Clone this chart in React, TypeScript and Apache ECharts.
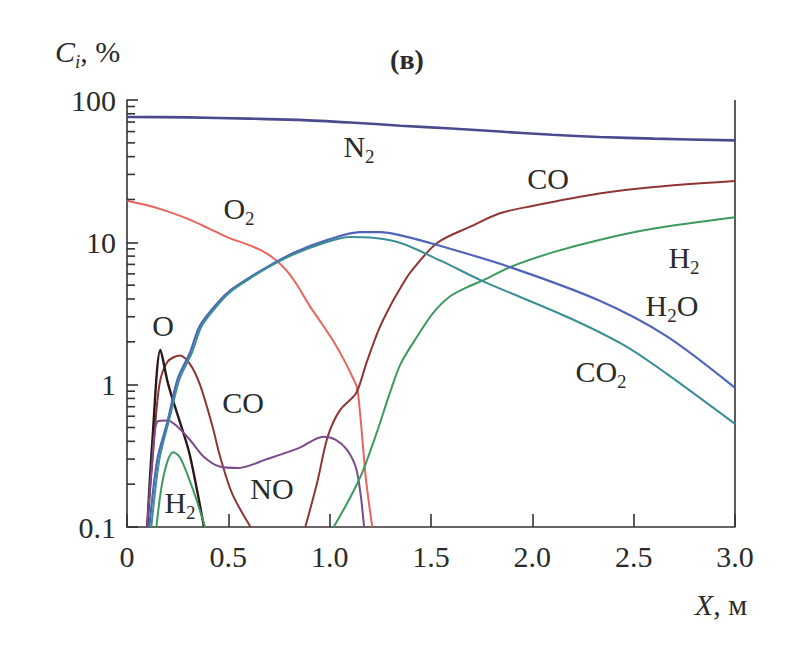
import React, { useEffect, useRef } from "react";
import * as echarts from "echarts";

const FONT = "'Liberation Serif', 'Times New Roman', serif";
const TXT = "#2b2b2b";
const AX = "#333333";

// x tick labels
const X_TICKS = [0, 0.5, 1.0, 1.5, 2.0, 2.5, 3.0];
// minor log ticks on the concentration axis
const Y_MINOR = [0.2, 0.3, 0.4, 0.5, 0.6, 0.7, 0.8, 0.9, 2, 3, 4, 5, 6, 7, 8, 9, 20, 30, 40, 50, 60, 70, 80, 90];
// right frame line of the plot
const RIGHT_FRAME = [[3, 0.1], [3, 100]];

// series: [X (m), C (%)]
const N2 = [[0, 76], [0.3, 75.5], [0.6, 74], [0.85, 72.5], [1.1, 69.5], [1.35, 66], [1.6, 63], [1.84, 60], [2.1, 57], [2.33, 55], [2.6, 53.5], [3.0, 52]];
const O2 = [[0, 19.6], [0.1, 18.2], [0.2, 16.5], [0.3, 14.6], [0.4, 12.6], [0.5, 10.8], [0.6, 9.6], [0.66, 8.8], [0.72, 7.8], [0.78, 6.5], [0.84, 5.0], [0.9, 3.6], [0.96, 2.7], [1.02, 2.0], [1.07, 1.5], [1.11, 1.15], [1.135, 0.95], [1.15, 0.63], [1.165, 0.36], [1.18, 0.21], [1.21, 0.1]];
const CO_MAIN = [[0.88, 0.1], [0.94, 0.21], [0.99, 0.43], [1.05, 0.66], [1.13, 0.87], [1.18, 1.4], [1.24, 2.4], [1.3, 3.6], [1.35, 4.8], [1.4, 6.2], [1.53, 9.9], [1.7, 13], [1.84, 16], [2.0, 18], [2.33, 22], [2.6, 24.5], [3.0, 27]];
const CO_LEFT = [[0.1, 0.1], [0.13, 0.35], [0.16, 1.0], [0.2, 1.45], [0.26, 1.6], [0.31, 1.4], [0.36, 1.0], [0.42, 0.52], [0.46, 0.31], [0.52, 0.17], [0.61, 0.1]];
const O_ATOM = [[0.1, 0.1], [0.125, 0.4], [0.165, 1.75], [0.2, 1.05], [0.23, 0.75], [0.27, 0.5], [0.31, 0.32], [0.38, 0.1]];
const NO = [[0.1, 0.1], [0.125, 0.3], [0.15, 0.55], [0.2, 0.56], [0.24, 0.52], [0.31, 0.41], [0.38, 0.31], [0.46, 0.265], [0.55, 0.26], [0.69, 0.3], [0.85, 0.36], [0.97, 0.43], [1.03, 0.41], [1.085, 0.35], [1.13, 0.26], [1.155, 0.16], [1.17, 0.1]];
const H2_LEFT = [[0.145, 0.1], [0.17, 0.19], [0.2, 0.29], [0.228, 0.335], [0.26, 0.31], [0.3, 0.23], [0.34, 0.16], [0.385, 0.1]];
const H2_RIGHT = [[1.02, 0.1], [1.1, 0.16], [1.16, 0.24], [1.23, 0.45], [1.3, 0.9], [1.35, 1.4], [1.43, 2.16], [1.51, 3.18], [1.59, 4.13], [1.68, 4.85], [1.76, 5.43], [1.89, 6.7], [2.1, 8.5], [2.33, 10.4], [2.6, 12.5], [3.0, 15]];
const H2O = [[0.11, 0.1], [0.15, 0.3], [0.2, 0.55], [0.25, 1.1], [0.31, 1.67], [0.36, 2.6], [0.45, 3.8], [0.51, 4.6], [0.6, 5.6], [0.69, 6.7], [0.82, 8.4], [0.99, 10.4], [1.15, 11.8], [1.25, 11.8], [1.35, 11.2], [1.54, 9.5], [1.89, 6.7], [2.33, 3.9], [2.66, 2.2], [3.0, 0.95]];
const CO2 = [[0.12, 0.1], [0.16, 0.3], [0.21, 0.58], [0.26, 1.1], [0.32, 1.67], [0.37, 2.6], [0.46, 3.8], [0.52, 4.6], [0.6, 5.5], [0.69, 6.6], [0.82, 8.2], [0.99, 10.1], [1.1, 10.9], [1.2, 10.8], [1.35, 9.9], [1.55, 7.4], [1.76, 5.3], [2.17, 3.0], [2.45, 1.9], [2.66, 1.2], [3.0, 0.53]];

const SERIES = [
  { name: "N2", data: N2, color: "#4b4a8f", width: 2.6 },
  { name: "O2", data: O2, color: "#e8645c", width: 2 },
  { name: "CO", data: CO_MAIN, color: "#8f3535", width: 2 },
  { name: "CO-left", data: CO_LEFT, color: "#8f3535", width: 2 },
  { name: "O", data: O_ATOM, color: "#2a1818", width: 2.4 },
  { name: "NO", data: NO, color: "#7b4a8c", width: 2 },
  { name: "H2-left", data: H2_LEFT, color: "#3d9a5f", width: 2 },
  { name: "H2", data: H2_RIGHT, color: "#3d9a5f", width: 2 },
  { name: "H2O", data: H2O, color: "#4f63b8", width: 2.2 },
  { name: "CO2", data: CO2, color: "#3a8f95", width: 2 },
];

const rich = {
  m: { fontSize: 30, fontFamily: FONT, fill: TXT, lineHeight: 40, verticalAlign: "middle" },
  s: { fontSize: 19, fontFamily: FONT, fill: TXT, lineHeight: 40, verticalAlign: "bottom" },
  i: { fontSize: 30, fontFamily: FONT, fill: TXT, lineHeight: 40, fontStyle: "italic", verticalAlign: "middle" },
  is: { fontSize: 19, fontFamily: FONT, fill: TXT, lineHeight: 40, fontStyle: "italic", verticalAlign: "bottom" },
  b: { fontSize: 28, fontFamily: FONT, fill: TXT, lineHeight: 40, fontWeight: "bold", verticalAlign: "middle" },
};

function label(x: number, y: number, text: string, align = "center") {
  return {
    type: "text",
    x,
    y,
    silent: true,
    style: { text, rich, align, verticalAlign: "middle", fontSize: 30, fontFamily: FONT, fill: TXT },
  };
}

const LABELS = [
  label(359, 146, "{m|N}{s|2}"),
  label(239, 208, "{m|O}{s|2}"),
  label(548, 178, "{m|CO}"),
  label(684, 257, "{m|H}{s|2}"),
  label(672, 305, "{m|H}{s|2}{m|O}"),
  label(601, 371, "{m|CO}{s|2}"),
  label(163, 325, "{m|O}"),
  label(243, 402, "{m|CO}"),
  label(272, 488, "{m|NO}"),
  label(180, 502, "{m|H}{s|2}"),
  label(407, 59, "{b|(в)}"),
  label(55, 51, "{i|C}{is|i}{m|, %}", "left"),
  label(721, 604, "{i|X}{m|, м}"),
];

export default function App() {
  const ref = useRef<HTMLDivElement>(null);
  useEffect(() => {
    if (!ref.current) return;
    const chart = echarts.init(ref.current, undefined, { renderer: "svg" });
    const lineSeries = SERIES.map((s) => ({
      name: s.name,
      type: "line",
      data: s.data,
      showSymbol: false,
      symbol: "none",
      smooth: 0.3,
      clip: true,
      lineStyle: { color: s.color, width: s.width },
      z: 3,
    }));
    chart.setOption({
      animation: false,
      backgroundColor: "#ffffff",
      grid: { left: 127, right: 72, top: 100, bottom: 128 },
      xAxis: {
        type: "value",
        min: 0,
        max: 3,
        interval: 0.5,
        axisLine: { show: true, lineStyle: { color: AX, width: 1.6 } },
        axisTick: { show: true, inside: true, length: 13, lineStyle: { color: AX, width: 1.6 } },
        axisLabel: {
          fontSize: 30,
          fontFamily: FONT,
          color: TXT,
          margin: 14,
          formatter: (v: number) => (X_TICKS.includes(v) ? (v === 0 ? "0" : v.toFixed(1)) : ""),
        },
        splitLine: { show: false },
      },
      yAxis: {
        type: "log",
        logBase: 10,
        min: 0.1,
        max: 100,
        axisLine: { show: true, lineStyle: { color: AX, width: 1.6 } },
        axisTick: { show: true, inside: true, length: 11, lineStyle: { color: AX, width: 1.6 } },
        axisLabel: { fontSize: 30, fontFamily: FONT, color: TXT, margin: 11 },
        splitLine: { show: false },
      },
      series: [
        ...lineSeries,
        {
          type: "line",
          name: "frame",
          data: RIGHT_FRAME,
          showSymbol: false,
          symbol: "none",
          silent: true,
          clip: false,
          lineStyle: { color: AX, width: 1.6 },
          z: 2,
        },
        {
          type: "scatter",
          name: "minor-ticks",
          silent: true,
          clip: false,
          data: Y_MINOR.map((v) => [0, v]),
          symbol: "rect",
          symbolSize: [8, 1.6],
          symbolOffset: [4, 0],
          itemStyle: { color: AX, opacity: 1 },
          z: 4,
        },
      ],
      graphic: LABELS,
    });
    return () => chart.dispose();
  }, []);
  return <div ref={ref} style={{ position: "fixed", left: 0, top: 0, width: 807, height: 655, background: "#fff" }} />;
}
